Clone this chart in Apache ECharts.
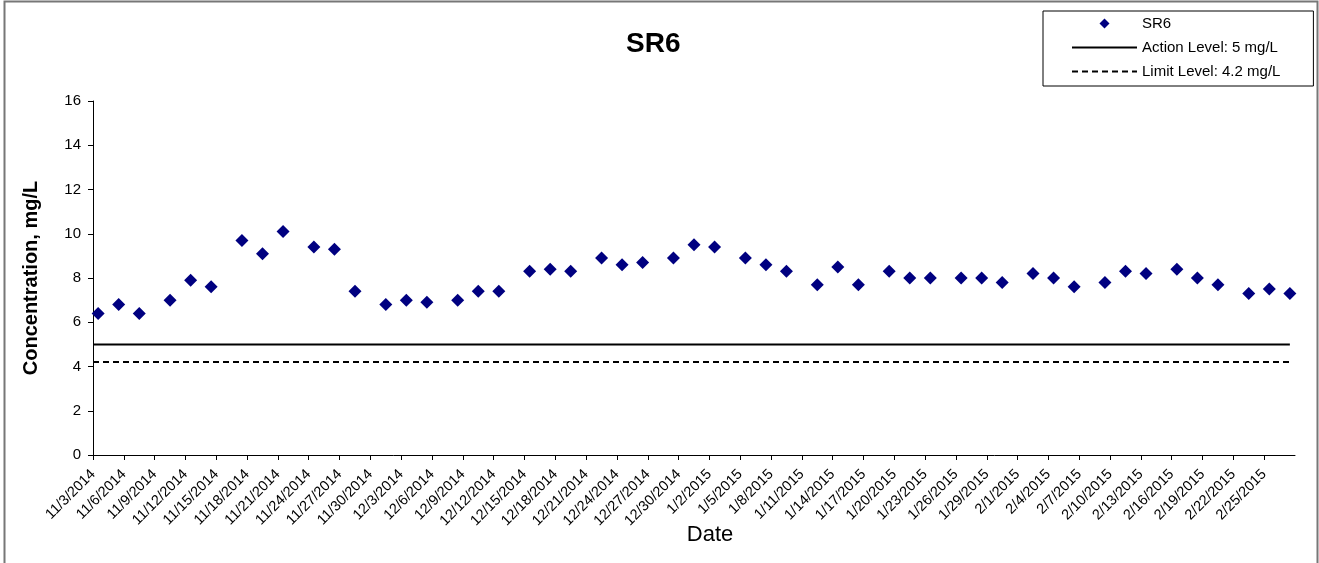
<!DOCTYPE html>
<html>
<head>
<meta charset="utf-8">
<title>SR6</title>
<script src="https://cdn.jsdelivr.net/npm/echarts@6/dist/echarts.min.js"></script>
<style>
  html, body { margin: 0; padding: 0; background: #fff; }
  #chart { width: 1319px; height: 563px; }
</style>
</head>
<body>
<div id="chart"></div>
<script>
// sample dates (M/D/YYYY), samples taken around midday
var sampleDates = [
  '11/3/2014', '11/5/2014', '11/7/2014', '11/10/2014', '11/12/2014', '11/14/2014',
  '11/17/2014', '11/19/2014', '11/21/2014', '11/24/2014', '11/26/2014', '11/28/2014',
  '12/1/2014', '12/3/2014', '12/5/2014', '12/8/2014', '12/10/2014', '12/12/2014',
  '12/15/2014', '12/17/2014', '12/19/2014', '12/22/2014', '12/24/2014', '12/26/2014',
  '12/29/2014', '12/31/2014', '1/2/2015', '1/5/2015', '1/7/2015', '1/9/2015',
  '1/12/2015', '1/14/2015', '1/16/2015', '1/19/2015', '1/21/2015', '1/23/2015',
  '1/26/2015', '1/28/2015', '1/30/2015', '2/2/2015', '2/4/2015', '2/6/2015',
  '2/9/2015', '2/11/2015', '2/13/2015', '2/16/2015', '2/18/2015', '2/20/2015',
  '2/23/2015', '2/25/2015', '2/27/2015'
]
var sr6 = [
  6.4, 6.8, 6.4, 7.0, 7.9, 7.6,
  9.7, 9.1, 10.1, 9.4, 9.3, 7.4,
  6.8, 7.0, 6.9, 7.0, 7.4, 7.4,
  8.3, 8.4, 8.3, 8.9, 8.6, 8.7,
  8.9, 9.5, 9.4, 8.9, 8.6, 8.3,
  7.7, 8.5, 7.7, 8.3, 8.0, 8.0,
  8.0, 8.0, 7.8, 8.2, 8.0, 7.6,
  7.8, 8.3, 8.2, 8.4, 8.0, 7.7,
  7.3, 7.5, 7.3
]
var sampleHour = 12
var actionLevel = 5
var limitLevel = 4.2
// date axis: 11/3/2014 .. 2/28/2015, tick every 3 days
var axisStart = '11/3/2014'
var axisEnd = '2/28/2015'
var tickDays = 3
var yTicks = { min: 0, max: 16, step: 2 }

var DAY = 86400000
function parseDate(s) {
  var p = s.split('/')
  return Date.UTC(+p[2], +p[0] - 1, +p[1])
}
var t0 = parseDate(axisStart)
function dayOf(s) {
  return (parseDate(s) - t0) / DAY
}
function labelOf(d) {
  var dt = new Date(t0 + Math.round(d) * DAY)
  return (dt.getUTCMonth() + 1) + '/' + dt.getUTCDate() + '/' + dt.getUTCFullYear()
}

var points = sampleDates.map(function (s, i) {
  return [dayOf(s) + sampleHour / 24, sr6[i]]
})
var lastDay = points[points.length - 1][0]

var font = '"Liberation Sans", Arial, sans-serif'
var chart = echarts.init(document.getElementById('chart'))

// legend icons: small diamond in the middle of the 65x10 icon box,
// and no dot on the line entries
var smallDiamond = 'path://M0,0M65,10M32.5,0L37.5,5L32.5,10L27.5,5Z'
var noDot = { opacity: 0 }

var option = {
  animation: false,
  backgroundColor: '#fff',
  textStyle: { fontFamily: font, color: '#000' },
  title: {
    text: 'SR6',
    left: 621,
    top: 25,
    textStyle: { fontSize: 28, fontWeight: 'bold', color: '#000', fontFamily: font }
  },
  legend: {
    orient: 'vertical',
    left: 1043,
    top: 11,
    itemWidth: 65,
    itemHeight: 10,
    itemGap: 9,
    padding: [5, 33, 7, 28],
    borderColor: '#000',
    borderWidth: 1,
    textStyle: { fontSize: 15, color: '#000', fontFamily: font },
    data: [
      { name: 'SR6', icon: smallDiamond },
      { name: 'Action Level: 5 mg/L', itemStyle: noDot },
      { name: 'Limit Level: 4.2 mg/L', itemStyle: noDot }
    ]
  },
  graphic: [{
    type: 'rect',
    shape: { x: 4.5, y: 1.5, width: 1313, height: 600 },
    style: { fill: 'none', stroke: '#777', lineWidth: 2 },
    silent: true
  }],
  grid: { left: 93, right: 24, top: 101, bottom: 108 },
  xAxis: {
    type: 'value',
    min: 0,
    max: dayOf(axisEnd),
    interval: tickDays,
    name: 'Date',
    nameLocation: 'middle',
    nameGap: 69,
    nameMoveOverlap: false,
    nameTextStyle: { fontSize: 22, color: '#000', fontFamily: font, padding: [0, 0, 0, 32] },
    splitLine: { show: false },
    axisLine: { show: true, onZero: false, lineStyle: { color: '#000', width: 1 } },
    axisTick: { show: true, length: 5, lineStyle: { color: '#000' } },
    axisLabel: {
      rotate: 45,
      fontSize: 14.5,
      color: '#000',
      fontFamily: font,
      margin: 17,
      showMaxLabel: false,
      formatter: function (v) { return labelOf(v) }
    }
  },
  yAxis: {
    type: 'value',
    min: yTicks.min,
    max: yTicks.max,
    interval: yTicks.step,
    name: 'Concentration, mg/L',
    nameLocation: 'middle',
    nameGap: 52,
    nameTextStyle: { fontSize: 20, fontWeight: 'bold', color: '#000', fontFamily: font },
    splitLine: { show: false },
    axisLine: { show: true, lineStyle: { color: '#000', width: 1 } },
    axisTick: { show: true, length: 5, lineStyle: { color: '#000' } },
    axisLabel: { fontSize: 15, color: '#000', fontFamily: font, margin: 12 }
  },
  series: [{
    name: 'SR6',
    type: 'scatter',
    symbol: 'diamond',
    symbolSize: 13,
    itemStyle: { color: '#000080', opacity: 1 },
    data: points
  }, {
    name: 'Action Level: 5 mg/L',
    type: 'line',
    symbol: 'none',
    lineStyle: { color: '#000', width: 2, type: 'solid' },
    itemStyle: { color: '#000' },
    data: [[0, actionLevel], [lastDay, actionLevel]]
  }, {
    name: 'Limit Level: 4.2 mg/L',
    type: 'line',
    symbol: 'none',
    lineStyle: { color: '#000', width: 2, type: [6, 4] },
    itemStyle: { color: '#000' },
    data: [[0, limitLevel], [lastDay, limitLevel]]
  }]
}

chart.setOption(option)
window.onresize = function () {
  chart.resize()
}
</script>
</body>
</html>
